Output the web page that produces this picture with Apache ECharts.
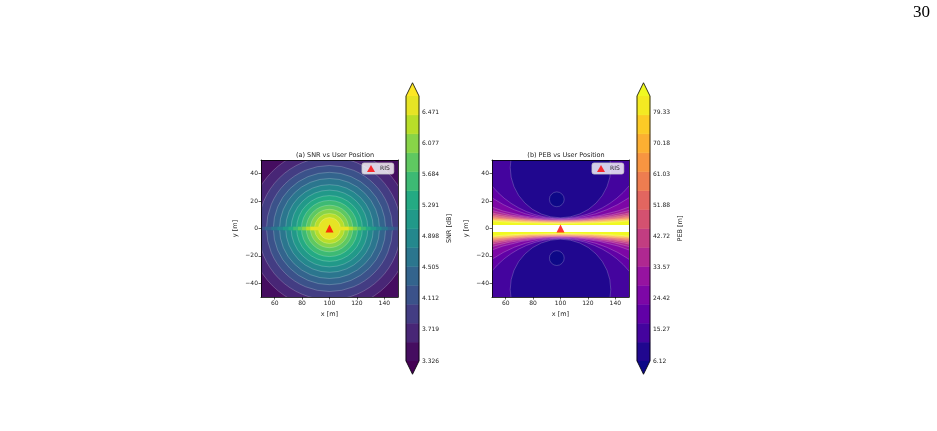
<!DOCTYPE html>
<html>
<head>
<meta charset="utf-8">
<script src="https://cdn.jsdelivr.net/npm/echarts@6/dist/echarts.min.js"></script>
<style>
  html, body { margin: 0; background: #fff; }
  #main { width: 937px; height: 431px; }
</style>
</head>
<body>
<div id="main"></div>
<script>
// ---- values ----
var xRange = [50, 150];
var yRange = [-50, 50];
var risPos = [100, 0];
var xTicks = [60, 80, 100, 120, 140];
var yTicks = [-40, -20, 0, 20, 40];
var nBands = 14;

// SNR colorbar
var snrTicks = [3.326, 3.719, 4.112, 4.505, 4.898, 5.291, 5.684, 6.077, 6.471];
var snrRange = [3.326, 6.673];
// radius (m) around the RIS where each SNR contour sits, outer -> inner
var snrRadius = [59, 52, 46, 41, 36.5, 32, 28, 24, 20.5, 17, 14, 11, 8];
var snrStreak = 6;   // how much further each level reaches along y = 0
var snrStrip = 1.2;  // half height of that streak

// PEB colorbar
var pebTicks = [6.12, 15.27, 24.42, 33.57, 42.72, 51.88, 61.03, 70.18, 79.33];
var pebRange = [6.12, 84.03];
// PEB contours (low -> high level): gap above y=0 at x=100, and one point the arc passes through
var pebGap = [7.8, 7.4, 7.0, 6.6, 6.3, 6.0, 5.7, 5.4, 5.1, 4.8, 4.5, 4.2, 3.9, 3.6];
var pebThrough = [[63.7, 50], [50, 31], [50, 22.5], [50, 15.5], [50, 13], [50, 11.3], [50, 10],
                  [50, 9], [50, 8.2], [50, 7.5], [50, 6.9], [50, 6.3], [50, 5.8], [50, 5.3]];
// small pockets below the lowest level: [x, y, r]
var pebHoles = [[97.3, 21.3, 5.4], [97.3, -21.6, 5.4]];
var pebBlank = 2.5;  // half height of the empty strip along y = 0

// ---- colour maps ----
var viridis = ['#440154', '#482475', '#414487', '#355f8d', '#2a788e', '#21918c',
               '#22a884', '#44bf70', '#7ad151', '#bddf26', '#fde725'];
var plasma = ['#0d0887', '#41049d', '#6a00a8', '#8f0da4', '#b12a90', '#cc4778',
              '#e16462', '#f2844b', '#fca636', '#fcce25', '#f0f921'];

function hex(c) { return [1, 3, 5].map(function (i) { return parseInt(c.substr(i, 2), 16); }); }
function cmap(stops, t) {
  t = Math.max(0, Math.min(1, t));
  var f = t * (stops.length - 1), i = Math.min(Math.floor(f), stops.length - 2), u = f - i;
  var a = hex(stops[i]), b = hex(stops[i + 1]);
  return 'rgb(' + a.map(function (v, j) { return Math.round(v + (b[j] - v) * u); }).join(',') + ')';
}
function bands(stops) {
  var out = [];
  for (var i = 0; i < nBands; i++) out.push(cmap(stops, (i + 0.5) / nBands));
  return out;
}
var snrColors = bands(viridis);
var pebColors = bands(plasma);
var lineColor = 'rgba(255,255,255,0.35)';
var font = 'DejaVu Sans';

// ---- contour shapes, in data units ----
var snrShapes = [{ kind: 'rect', x0: xRange[0], y0: yRange[1], x1: xRange[1], y1: yRange[0], fill: snrColors[0] }];
snrRadius.forEach(function (r, i) {
  snrShapes.push({ kind: 'circle', x: risPos[0], y: risPos[1], r: r, fill: snrColors[i + 1], line: true });
  snrShapes.push({ kind: 'rect', x0: risPos[0] - r - snrStreak, y0: snrStrip,
                   x1: risPos[0] + r + snrStreak, y1: -snrStrip, fill: snrColors[i + 1] });
});

var pebShapes = [{ kind: 'rect', x0: xRange[0], y0: yRange[1], x1: xRange[1], y1: yRange[0], fill: plasma[10] }];
for (var k = pebGap.length - 1; k >= 0; k--) {
  var p = pebThrough[k], d = pebGap[k], dx = p[0] - risPos[0];
  var c = (dx * dx + p[1] * p[1] - d * d) / (2 * (p[1] - d));
  pebShapes.push({ kind: 'circle', x: risPos[0], y: c, r: c - d, fill: pebColors[k], line: true });
  pebShapes.push({ kind: 'circle', x: risPos[0], y: -c, r: c - d, fill: pebColors[k], line: true });
}
pebHoles.forEach(function (h) {
  pebShapes.push({ kind: 'circle', x: h[0], y: h[1], r: h[2], fill: plasma[0], line: true });
});
pebShapes.push({ kind: 'rect', x0: xRange[0], y0: pebBlank, x1: xRange[1], y1: -pebBlank, fill: '#ffffff' });

function shapeItem(shapes) {
  return function (params, api) {
    var s = shapes[params.dataIndex];
    if (s.kind === 'rect') {
      var a = api.coord([s.x0, s.y0]), b = api.coord([s.x1, s.y1]);
      return { type: 'rect', shape: { x: a[0], y: a[1], width: b[0] - a[0], height: b[1] - a[1] },
               style: { fill: s.fill } };
    }
    var ctr = api.coord([s.x, s.y]);
    return { type: 'circle', shape: { cx: ctr[0], cy: ctr[1], r: api.size([s.r, s.r])[0] },
             style: { fill: s.fill, stroke: s.line ? lineColor : null, lineWidth: 0.6 } };
  };
}
function indexData(list) { return list.map(function (s, i) { return [i, 0]; }); }

// ---- colorbar pieces ----
function barItem(range, colors) {
  return function (params, api) {
    var i = params.dataIndex, w = (range[1] - range[0]) / nBands;
    var p0 = api.coord([0, range[0] + i * w]), p1 = api.coord([1, range[0] + (i + 1) * w]);
    return { type: 'rect', shape: { x: p0[0], y: p1[1], width: p1[0] - p0[0], height: p0[1] - p1[1] },
             style: { fill: colors[i], stroke: colors[i], lineWidth: 0.5 } };
  };
}
function extendItem(range, stops) {
  return function (params, api) {
    var ext = (range[1] - range[0]) * 0.05;
    var bl = api.coord([0, range[0]]), br = api.coord([1, range[0]]);
    var tl = api.coord([0, range[1]]), tr = api.coord([1, range[1]]);
    var top = api.coord([0.5, range[1] + ext]), bot = api.coord([0.5, range[0] - ext]);
    return { type: 'group', children: [
      { type: 'polygon', shape: { points: [tl, tr, top] }, style: { fill: stops[stops.length - 1] } },
      { type: 'polygon', shape: { points: [bl, br, bot] }, style: { fill: stops[0] } },
      { type: 'polygon', shape: { points: [bl, tl, top, tr, br, bot] },
        style: { fill: null, stroke: '#000', lineWidth: 0.8 } }
    ] };
  };
}

// ---- axes ----
var tickText = { fontSize: 6, color: '#222', fontFamily: font };
function minus(v) { return v < 0 ? '\u2212' + (-v) : String(v); }
function mainX(grid) {
  return [{
    type: 'value', gridIndex: grid, min: xRange[0], max: xRange[1], z: 10,
    name: 'x [m]', nameLocation: 'middle', nameGap: 14,
    nameTextStyle: { fontSize: 6.5, color: '#222', fontFamily: font },
    axisLine: { onZero: false, lineStyle: { color: '#000', width: 0.8 } },
    axisTick: { length: 2.5, customValues: xTicks, lineStyle: { color: '#000', width: 0.6 } },
    axisLabel: { customValues: xTicks, margin: 3, formatter: minus, ...tickText },
    splitLine: { show: false }
  }, {
    type: 'value', gridIndex: grid, position: 'top', min: xRange[0], max: xRange[1], z: 10,
    axisLine: { onZero: false, lineStyle: { color: '#000', width: 0.8 } },
    axisTick: { show: false }, axisLabel: { show: false }, splitLine: { show: false }
  }];
}
function mainY(grid) {
  return [{
    type: 'value', gridIndex: grid, min: yRange[0], max: yRange[1], z: 10,
    name: 'y [m]', nameLocation: 'middle', nameGap: 22, nameRotate: 90,
    nameTextStyle: { fontSize: 6.5, color: '#222', fontFamily: font },
    axisLine: { show: true, onZero: false, lineStyle: { color: '#000', width: 0.8 } },
    axisTick: { show: true, length: 2.5, customValues: yTicks, lineStyle: { color: '#000', width: 0.6 } },
    axisLabel: { customValues: yTicks, margin: 3, formatter: minus, ...tickText },
    splitLine: { show: false }
  }, {
    type: 'value', gridIndex: grid, position: 'right', min: yRange[0], max: yRange[1], z: 10,
    axisLine: { show: true, onZero: false, lineStyle: { color: '#000', width: 0.8 } },
    axisTick: { show: false }, axisLabel: { show: false }, splitLine: { show: false }
  }];
}
function barX(grid) {
  return { type: 'value', gridIndex: grid, min: 0, max: 1, show: false };
}
function barY(grid, range, ticks, digits, name) {
  return {
    type: 'value', gridIndex: grid, position: 'right', min: range[0], max: range[1],
    name: name, nameLocation: 'middle', nameGap: 27, nameRotate: 90,
    nameTextStyle: { fontSize: 6.5, color: '#222', fontFamily: font },
    axisLine: { show: false },
    axisTick: { show: true, length: 2.5, customValues: ticks, lineStyle: { color: '#000', width: 0.6 } },
    axisLabel: { customValues: ticks, margin: 3, formatter: function (v) { return v.toFixed(digits); }, ...tickText },
    splitLine: { show: false }
  };
}

function risSeries(x, y) {
  return { name: 'RIS', type: 'scatter', xAxisIndex: x, yAxisIndex: y, data: [risPos],
           symbol: 'triangle', symbolSize: 8, itemStyle: { color: '#ff0000' }, z: 20, silent: true };
}
function legendAt(left) {
  return { data: ['RIS'], left: left, top: 163, orient: 'vertical', selectedMode: false,
           icon: 'triangle', itemWidth: 8, itemHeight: 7, padding: [2, 4, 2, 5],
           backgroundColor: 'rgba(255,255,255,0.8)', borderColor: '#cccccc', borderWidth: 0.8, borderRadius: 2,
           textStyle: { fontSize: 6, color: '#222', fontFamily: font } };
}

var chart = echarts.init(document.getElementById('main'));
chart.setOption({
  animation: false,
  backgroundColor: '#ffffff',
  title: [
    { text: '(a) SNR vs User Position', left: 330, top: 147, textAlign: 'center',
      textStyle: { fontSize: 6.5, fontWeight: 'normal', color: '#222', fontFamily: font } },
    { text: '(b) PEB vs User Position', left: 561, top: 147, textAlign: 'center',
      textStyle: { fontSize: 6.5, fontWeight: 'normal', color: '#222', fontFamily: font } }
  ],
  graphic: [{ type: 'text', right: 7, top: 4,
              style: { text: '30', fontSize: 17, fontFamily: 'Liberation Serif', fill: '#000' } }],
  legend: [legendAt(362), legendAt(592)],
  grid: [
    { left: 261, top: 160, width: 137, height: 137 },
    { left: 406, top: 96, width: 13, height: 265 },
    { left: 492, top: 160, width: 137, height: 137 },
    { left: 637, top: 96, width: 13, height: 265 }
  ],
  xAxis: mainX(0).concat([barX(1)], mainX(2), [barX(3)]),
  yAxis: mainY(0).concat([barY(1, snrRange, snrTicks, 3, 'SNR [dB]')], mainY(2),
                         [barY(3, pebRange, pebTicks, 2, 'PEB [m]')]),
  series: [
    { type: 'custom', xAxisIndex: 0, yAxisIndex: 0, clip: true, silent: true,
      data: indexData(snrShapes), renderItem: shapeItem(snrShapes) },
    risSeries(0, 0),
    { type: 'custom', xAxisIndex: 2, yAxisIndex: 2, silent: true,
      data: snrColors.map(function (c, i) { return [0, i]; }), renderItem: barItem(snrRange, snrColors) },
    { type: 'custom', xAxisIndex: 2, yAxisIndex: 2, silent: true, z: 5,
      data: [[0, 0]], renderItem: extendItem(snrRange, viridis) },
    { type: 'custom', xAxisIndex: 3, yAxisIndex: 3, clip: true, silent: true,
      data: indexData(pebShapes), renderItem: shapeItem(pebShapes) },
    risSeries(3, 3),
    { type: 'custom', xAxisIndex: 5, yAxisIndex: 5, silent: true,
      data: pebColors.map(function (c, i) { return [0, i]; }), renderItem: barItem(pebRange, pebColors) },
    { type: 'custom', xAxisIndex: 5, yAxisIndex: 5, silent: true, z: 5,
      data: [[0, 0]], renderItem: extendItem(pebRange, plasma) }
  ]
});
</script>
</body>
</html>
